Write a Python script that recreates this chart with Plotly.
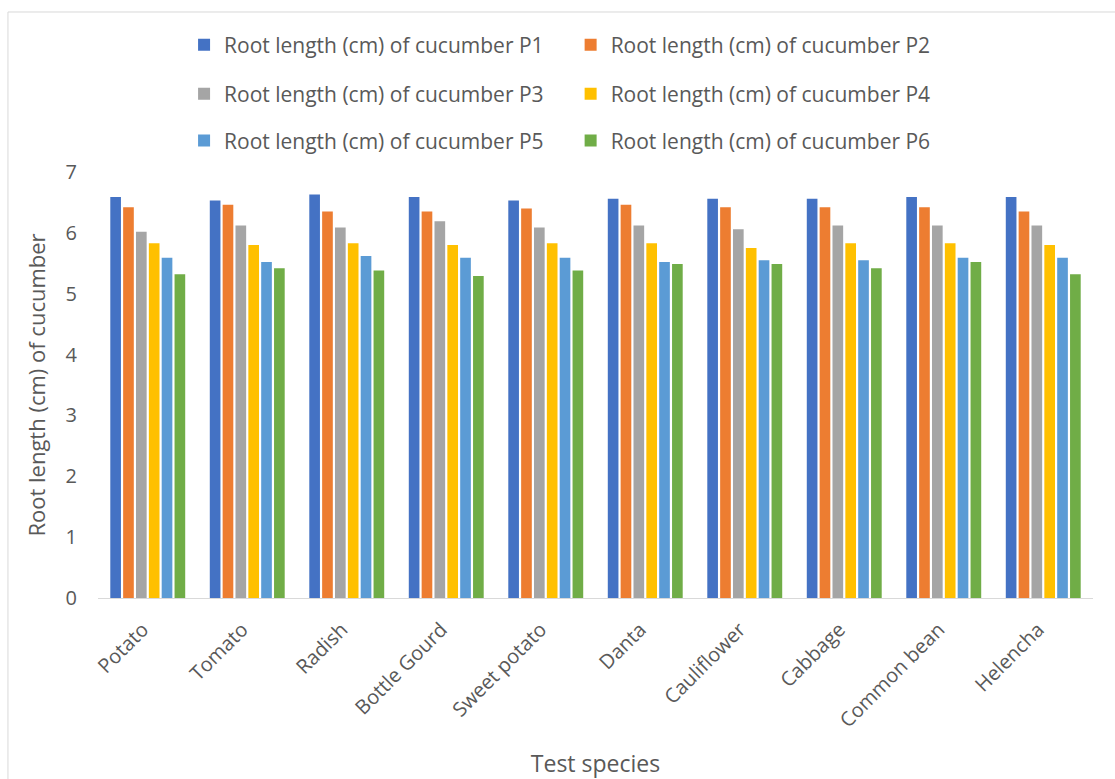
import plotly.graph_objects as go

# Test species on the category axis
species = ["Potato", "Tomato", "Radish", "Bottle Gourd", "Sweet potato",
           "Danta", "Cauliflower", "Cabbage", "Common bean", "Helencha"]

# Root length (cm) of cucumber for each treatment
p1 = [6.59, 6.53, 6.63, 6.59, 6.53, 6.56, 6.56, 6.56, 6.59, 6.59]
p2 = [6.42, 6.46, 6.35, 6.35, 6.40, 6.46, 6.42, 6.42, 6.42, 6.35]
p3 = [6.02, 6.12, 6.09, 6.19, 6.09, 6.12, 6.06, 6.12, 6.12, 6.12]
p4 = [5.83, 5.80, 5.83, 5.80, 5.83, 5.83, 5.75, 5.83, 5.83, 5.80]
p5 = [5.59, 5.52, 5.62, 5.59, 5.59, 5.52, 5.55, 5.55, 5.59, 5.59]
p6 = [5.32, 5.42, 5.38, 5.29, 5.38, 5.49, 5.49, 5.42, 5.52, 5.32]

series_names = [f"Root length (cm) of cucumber P{i}" for i in range(1, 7)]
series_values = [p1, p2, p3, p4, p5, p6]
colors = ["#4472C4", "#ED7D31", "#A5A5A5", "#FFC000", "#5B9BD5", "#70AD47"]

FONT = "Open Sans"
TXT = "#595959"

fig = go.Figure()
legend_ids = ["legend", "legend2", "legend3", "legend4", "legend5", "legend6"]
for name, vals, col, lg in zip(series_names, series_values, colors, legend_ids):
    fig.add_trace(go.Bar(x=species, y=vals, name=name, marker_color=col,
                         marker_line_width=0, legend=lg, showlegend=True))

# legend placement: two columns, three rows
col_x = [0.0865, 0.475]
row_y = [1.298, 1.183, 1.073]
legend_layout = {}
for i, lg in enumerate(legend_ids):
    legend_layout[lg] = dict(
        x=col_x[i % 2], y=row_y[i // 2], xanchor="left", yanchor="middle",
        orientation="h", bgcolor="rgba(0,0,0,0)",
        font=dict(family=FONT, size=21, color=TXT),
    )

fig.update_layout(
    width=1115, height=779,
    margin=dict(l=98, r=22, t=172, b=181),
    paper_bgcolor="white", plot_bgcolor="white",
    barmode="group", bargap=0.225, bargroupgap=0.17,
    font=dict(family=FONT, color=TXT),
    showlegend=True,
    **legend_layout,
)

fig.update_xaxes(
    tickangle=-45, tickfont=dict(family=FONT, size=20, color=TXT),
    showline=True, linecolor="#D9D9D9", linewidth=1, showgrid=False,
    ticks="", automargin=False, ticklabelstandoff=11, ticklabelshift=-5,
    title=dict(text="Test species", font=dict(family=FONT, size=23, color=TXT),
               standoff=25),
)
fig.update_yaxes(
    range=[0, 7], dtick=1, tick0=0, showgrid=False, zeroline=False,
    showline=False, tickfont=dict(family=FONT, size=20, color=TXT),
    ticklabelstandoff=20, automargin=False,
    title=dict(text="Root length (cm) of cucumber",
               font=dict(family=FONT, size=22, color=TXT), standoff=13),
)

# outer chart frame
fig.add_shape(type="rect", xref="paper", yref="paper",
              x0=-0.0905, x1=1.2, y0=-1.0, y1=1.3756,
              line=dict(color="#D9D9D9", width=1), fillcolor="rgba(0,0,0,0)",
              layer="below")

fig.write_html("out.html")
